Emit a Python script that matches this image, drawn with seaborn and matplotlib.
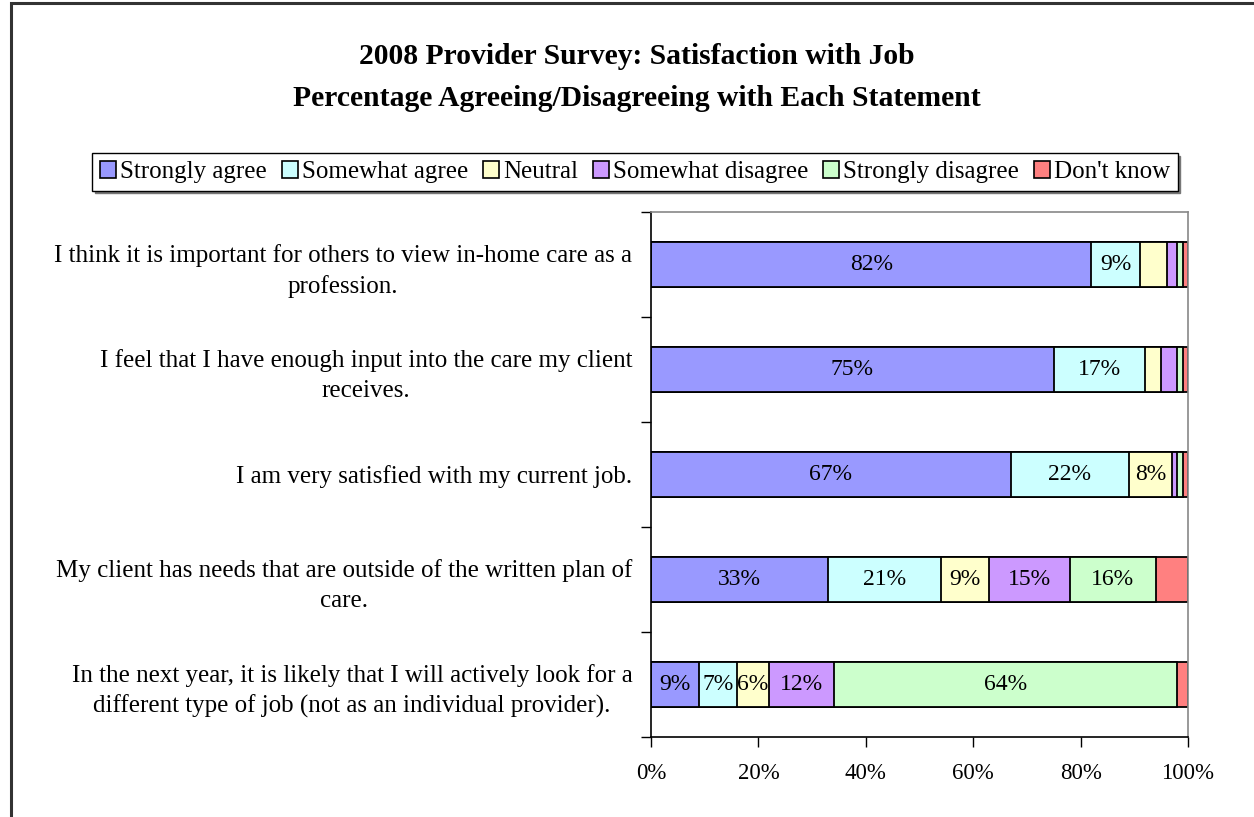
import matplotlib
matplotlib.use("Agg")
import matplotlib.pyplot as plt
from matplotlib.patches import Patch, Rectangle
from matplotlib.ticker import FixedLocator, PercentFormatter
import numpy as np
import pandas as pd
import seaborn as sns

statements = [
    "I think it is important for others to view in-home care as a\nprofession.",
    "I feel that I have enough input into the care my client\nreceives.",
    "I am very satisfied with my current job.",
    "My client has needs that are outside of the written plan of\ncare.",
    "In the next year, it is likely that I will actively look for a\ndifferent type of job (not as an individual provider).",
]
responses = ["Strongly agree", "Somewhat agree", "Neutral",
             "Somewhat disagree", "Strongly disagree", "Don't know"]

strongly_agree = [82, 75, 67, 33, 9]
somewhat_agree = [9, 17, 22, 21, 7]
neutral = [5, 3, 8, 9, 6]
somewhat_disagree = [2, 3, 1, 15, 12]
strongly_disagree = [1, 1, 1, 16, 64]
dont_know = [1, 1, 1, 6, 2]

colors = ["#9999FF", "#CCFFFF", "#FFFFCC", "#CC99FF", "#CCFFCC", "#FF8080"]

series = [strongly_agree, somewhat_agree, neutral,
          somewhat_disagree, strongly_disagree, dont_know]

sns.set_style("white")
plt.rcParams["font.family"] = ["Liberation Serif", "DejaVu Serif"]
plt.rcParams["text.color"] = "black"
plt.rcParams["xtick.labelcolor"] = "black"
plt.rcParams["ytick.labelcolor"] = "black"

W, H = 1254, 817
fig = plt.figure(figsize=(W / 100, H / 100), dpi=100)
ax = fig.add_axes([651 / W, 1 - 737 / H, (1188 - 651) / W, (737 - 212) / H])

values = np.array(series, dtype=float)          # shape (6, 5)
cum = np.cumsum(values, axis=0)
starts = cum - values

# Stack by overlaying cumulative totals, longest first
for i in range(len(responses) - 1, -1, -1):
    df = pd.DataFrame({"statement": statements, "total": cum[i]})
    sns.barplot(data=df, y="statement", x="total", order=statements,
                color=colors[i], saturation=1, edgecolor="black",
                linewidth=1.3, width=0.43, ax=ax)

# Percentage labels inside the segments
for i, name in enumerate(responses):
    if name == "Don't know":
        continue
    for j in range(len(statements)):
        v = values[i, j]
        if v >= 6:
            ax.text(starts[i, j] + v / 2, j, f"{int(v)}%", ha="center",
                    va="center", fontsize=17, color="black")

ax.set_xlim(0, 100)
ax.set_ylim(len(statements) - 0.5, -0.5)
ax.set_xlabel("")
ax.set_ylabel("")

ax.xaxis.set_major_locator(FixedLocator([0, 20, 40, 60, 80, 100]))
ax.xaxis.set_major_formatter(PercentFormatter(decimals=0))
ax.tick_params(axis="x", which="major", bottom=True, length=7, width=1,
               color="black", labelsize=16.5, pad=12)

ax.set_yticks(range(len(statements)))
ax.set_yticklabels(statements, fontsize=18, multialignment="center",
                   linespacing=1.45)
ax.yaxis.set_minor_locator(FixedLocator(np.arange(-0.5, len(statements), 1)))
ax.tick_params(axis="y", which="major", left=False, length=0, pad=13.5)
ax.tick_params(axis="y", which="minor", left=True, length=7, width=1,
               color="black")

for side in ("left", "bottom"):
    ax.spines[side].set_color("black")
    ax.spines[side].set_linewidth(1.2)
for side in ("top", "right"):
    ax.spines[side].set_visible(True)
    ax.spines[side].set_color("#888888")
    ax.spines[side].set_linewidth(1.2)

fig.text(637 / W, 1 - 57 / H, "2008 Provider Survey: Satisfaction with Job",
         ha="center", va="center", fontsize=21.3, fontweight="bold")
fig.text(637 / W, 1 - 99 / H,
         "Percentage Agreeing/Disagreeing with Each Statement",
         ha="center", va="center", fontsize=21.3, fontweight="bold")

handles = [Patch(facecolor=c, edgecolor="black", linewidth=1.2) for c in colors]
leg = fig.legend(handles, responses, loc="center", ncol=6,
                 bbox_to_anchor=(635 / W, 1 - 172 / H), fontsize=18,
                 handlelength=0.65, handleheight=0.65, handletextpad=0.15,
                 columnspacing=0.6, borderpad=0.3, frameon=True,
                 fancybox=False, shadow={"color": "#777777", "alpha": 1})
leg.get_frame().set_edgecolor("black")
leg.get_frame().set_linewidth(1.0)

# Outer chart frame
fig.patches.append(Rectangle((11 / W, -0.05), 1.2, 1 - 3 / H + 0.05,
                             transform=fig.transFigure, fill=False,
                             edgecolor="#333333", linewidth=2.2))

fig.savefig("out.png", dpi=100)
